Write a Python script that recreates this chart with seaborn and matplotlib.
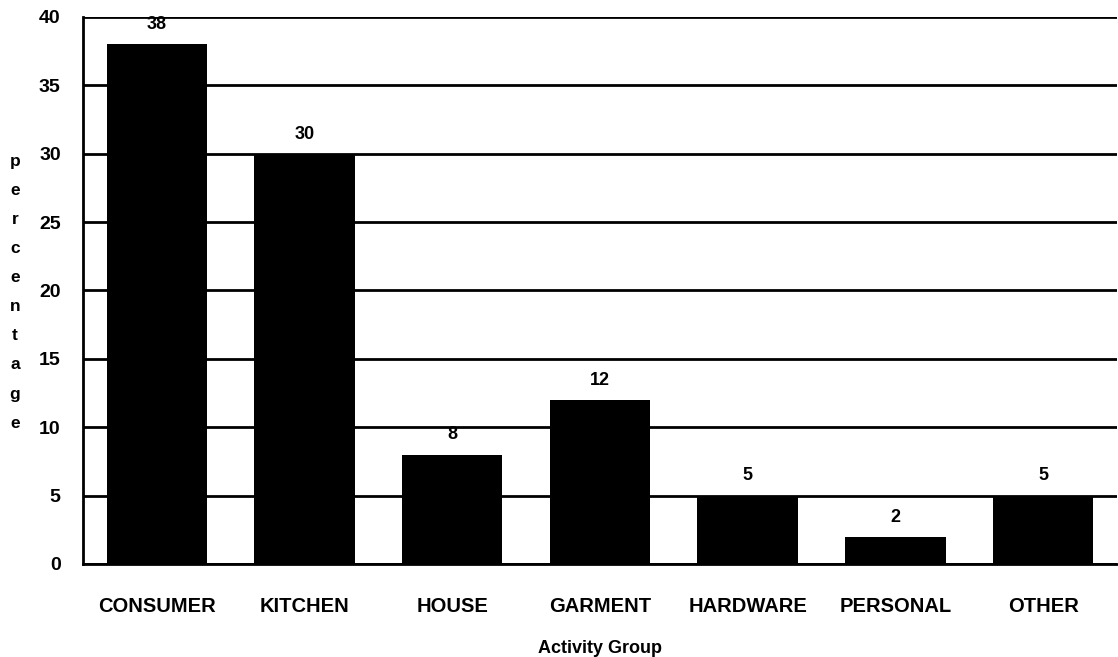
import numpy as np
import pandas as pd
import seaborn as sns
import matplotlib.pyplot as plt

# === dados ===
grupos = ["CONSUMER", "KITCHEN", "HOUSE", "GARMENT", "HARDWARE", "PERSONAL", "OTHER"]
percentuais = [38, 30, 8, 12, 5, 2, 5]
yticks = [0, 5, 10, 15, 20, 25, 30, 35, 40]

df = pd.DataFrame({"grupo": grupos, "pct": percentuais})

sns.set_theme(style="white")
plt.rcParams["font.family"] = ["Liberation Sans", "DejaVu Sans"]
plt.rcParams["font.weight"] = "bold"
plt.rcParams["text.color"] = "black"
plt.rcParams["axes.labelcolor"] = "black"
plt.rcParams["xtick.color"] = "black"
plt.rcParams["ytick.color"] = "black"

fig = plt.figure(figsize=(11.18, 6.57), dpi=100)
ax = fig.add_axes([0.0742, 0.1416, 0.9249, 0.8326])

# linhas de grade horizontais
for y in yticks:
    ax.axhline(y, color="black", lw=2, zorder=1)

sns.barplot(data=df, x="grupo", y="pct", color="black", width=0.68,
            saturation=1, edgecolor="black", linewidth=0, ax=ax, zorder=2)

# rótulos de valor acima das barras
for i, v in enumerate(percentuais):
    ax.annotate(f"{v}", (i, v), xytext=(0, 8), textcoords="offset points",
                ha="center", va="bottom", fontsize=13, fontweight="bold",
                color="black", zorder=0.5)

ax.set_xlim(-0.5, len(grupos) - 0.5)
ax.set_ylim(0, 40)
ax.set_yticks(yticks)
ax.set_yticklabels([str(t) for t in yticks], fontsize=14, fontweight="bold")
ax.tick_params(axis="y", direction="out", length=7, width=2, color="black", pad=9)

ax.set_xticks(range(len(grupos)))
ax.set_xticklabels(grupos, fontsize=14.5, fontweight="bold")
ax.tick_params(axis="x", which="major", length=0, pad=24)
ax.set_xticks(np.arange(-0.5, len(grupos), 1), minor=True)
ax.tick_params(axis="x", which="minor", direction="inout", length=14, width=2, color="black")

for s in ["top", "right"]:
    ax.spines[s].set_visible(False)
for s in ["left", "bottom"]:
    ax.spines[s].set_color("black")
    ax.spines[s].set_linewidth(2)

ax.set_xlabel("Activity Group", fontsize=13, fontweight="bold", labelpad=17)
ax.set_ylabel("")
fig.text(0.0134, 0.555, "\n".join("percentage"), ha="center", va="center",
         fontsize=12.5, fontweight="bold", linespacing=2.17)

plt.savefig("out.png", dpi=100)
